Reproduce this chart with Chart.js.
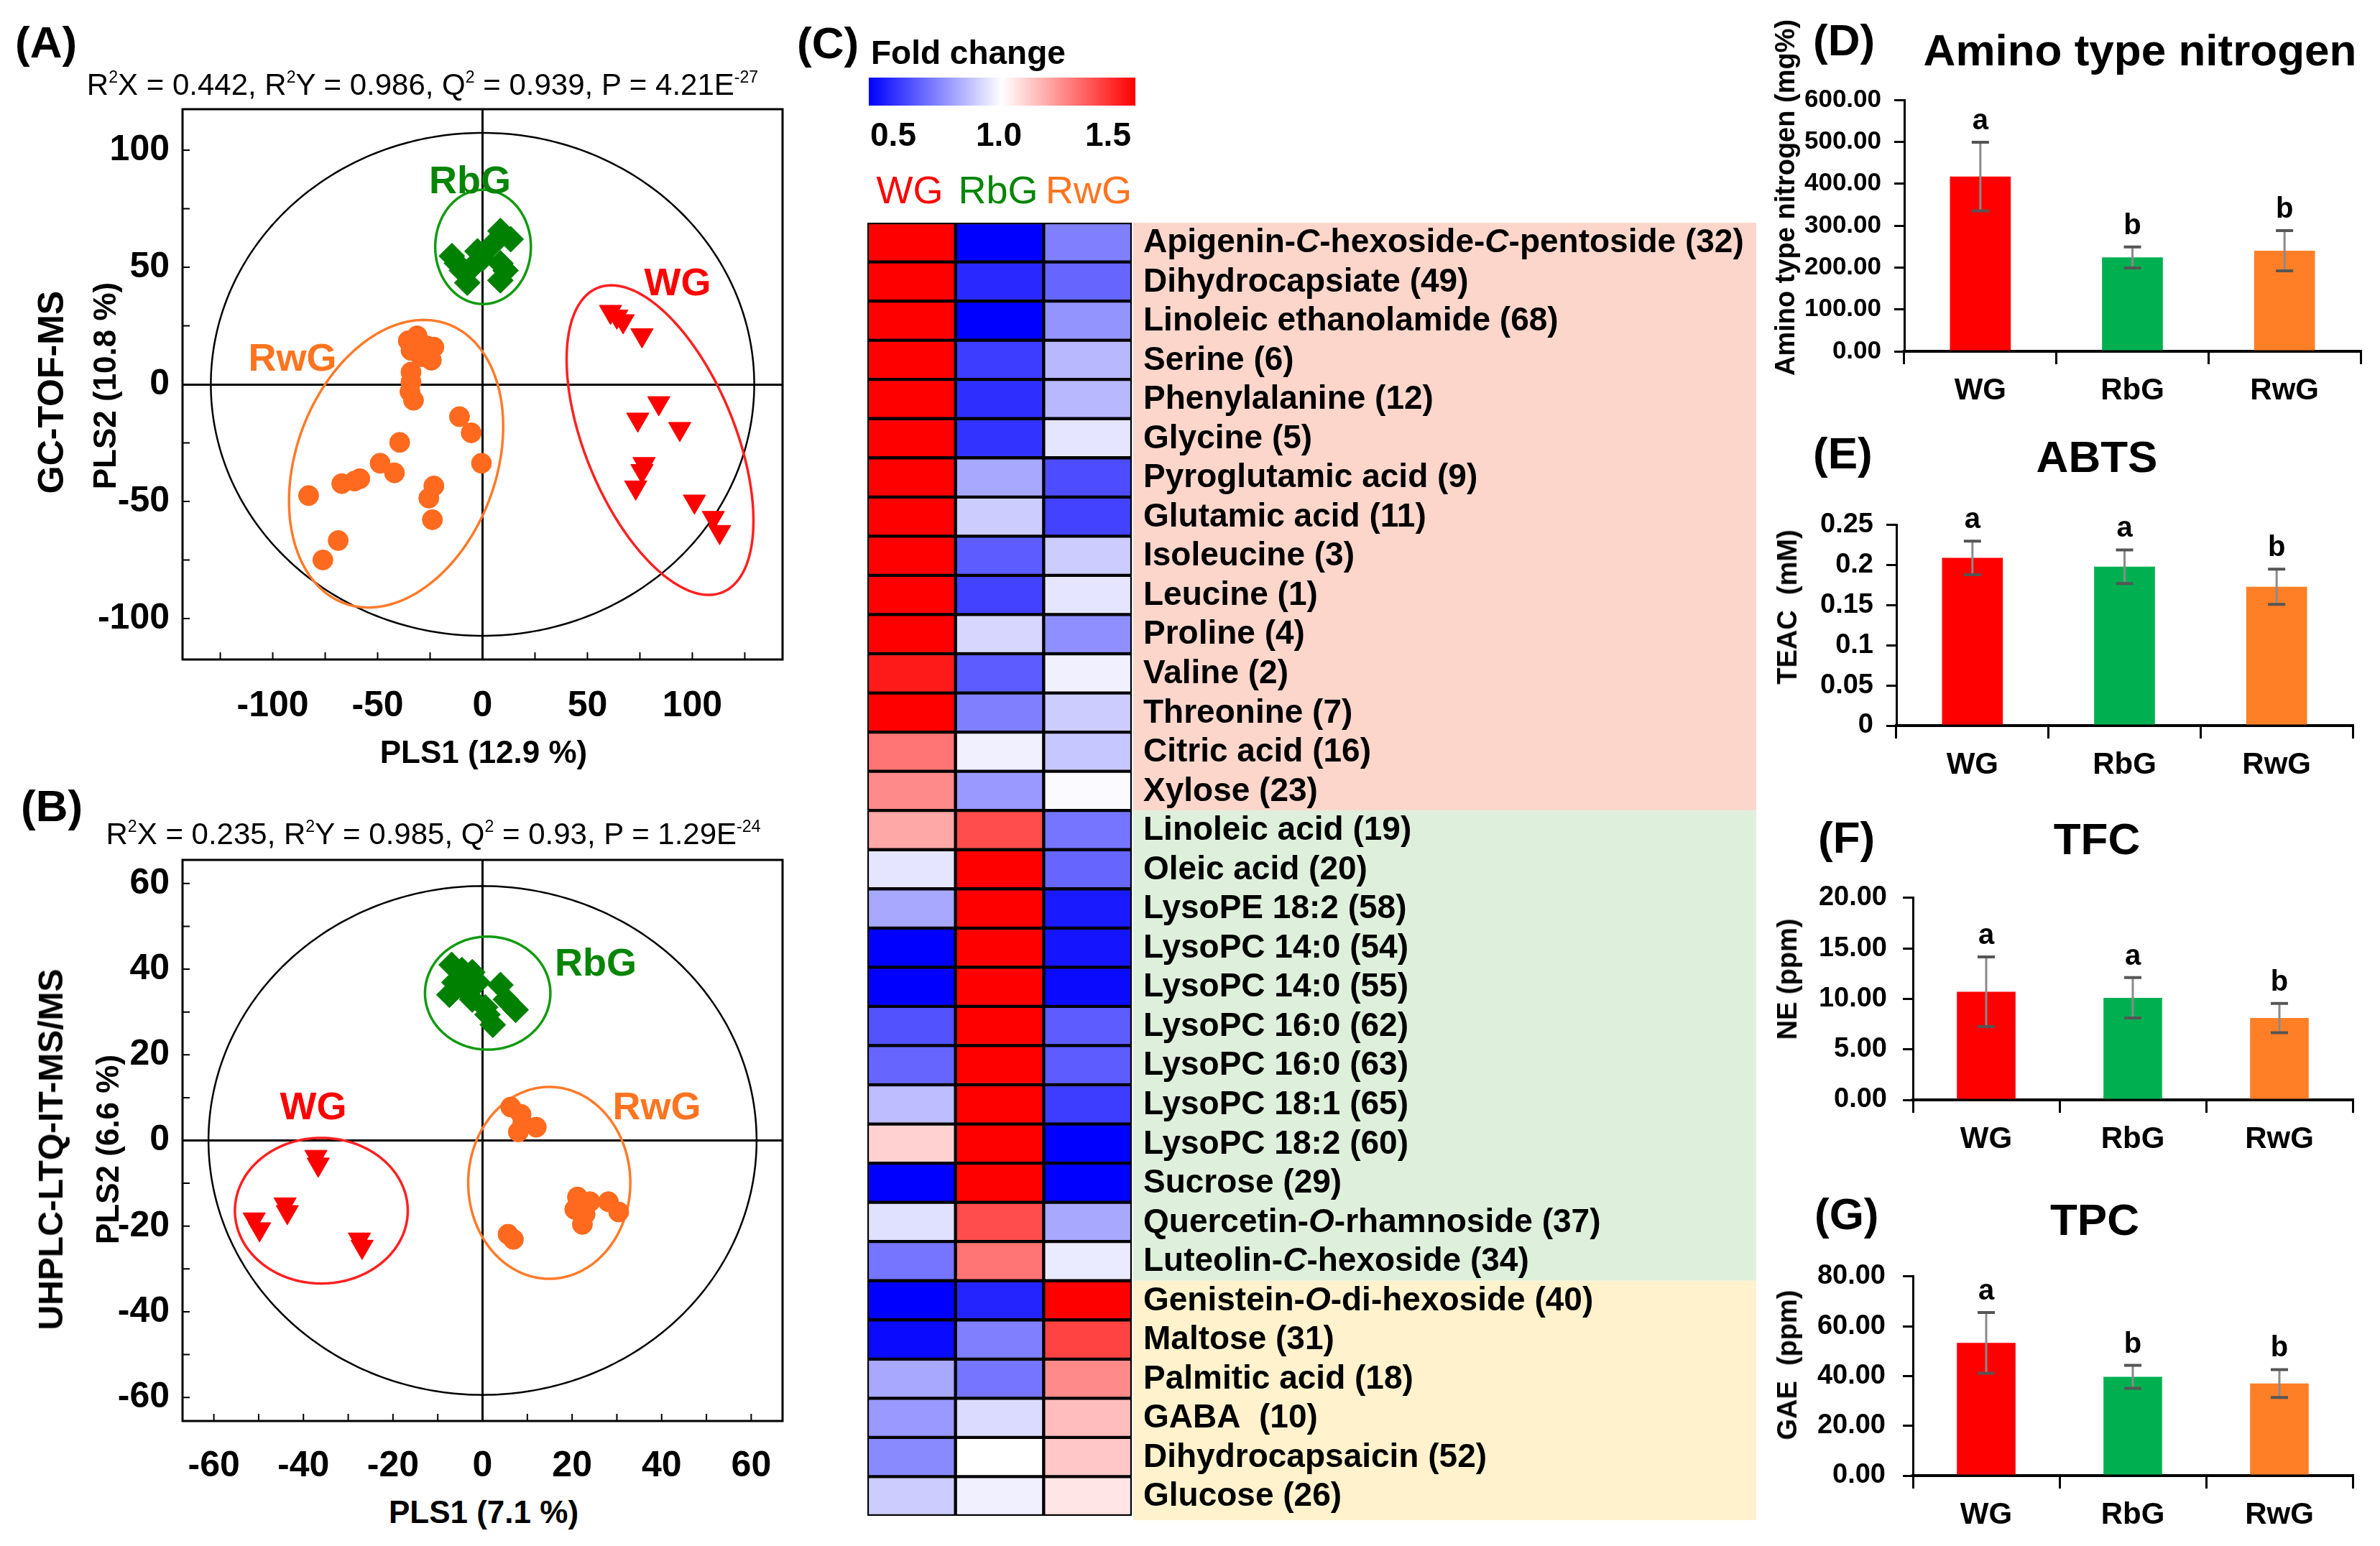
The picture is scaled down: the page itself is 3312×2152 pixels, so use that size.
<!DOCTYPE html>
<html><head><meta charset="utf-8">
<script src="https://cdn.jsdelivr.net/npm/chart.js@4.4.0/dist/chart.umd.min.js"></script>
<style>
html,body{margin:0;padding:0;background:#fff;}
#root{position:relative;width:3312px;height:2152px;overflow:hidden;font-family:'Liberation Sans',Arial,sans-serif;}
canvas{position:absolute;}
.t{position:absolute;white-space:nowrap;line-height:1;color:#000;}
.t sup{font-size:55%;vertical-align:0.75em;line-height:0;}
</style></head><body><div id="root"></div>
<script>
// ---------------- DATA ----------------
const groups = ['WG', 'RbG', 'RwG'];

// (A) GC-TOF-MS PLS-DA scores [PLS1, PLS2]
const aWG  = [[61,31],[64,29],[67,27],[76,21],[84,-8],[74,-15],[94,-19],[77,-34],[76,-37],[73,-44],[101,-50],[110,-57],[113,-63]];
const aRbG = [[-14.6,54.8],[-12.2,51.7],[-9.8,48.6],[-7.3,43.4],[-2.4,56.8],[0,53.7],[4.9,59.9],[8.5,65.5],[13.4,62],[8.5,51.7],[11,48.6],[8.5,44.4],[-5,50]];
const aRwG = [[-35.4,18.6],[-31.2,20.7],[-26.8,16.5],[-23.2,15.9],[-34.1,14.5],[-29.3,11.8],[-24.4,10.3],[-34.1,5.2],[-34.1,1],[-34.6,-3.1],[-32.9,-6.8],[-11,-13.8],[-5.4,-20.7],[-0.5,-33.7],[-39.5,-24.8],[-48.8,-33.7],[-42,-37.8],[-67.1,-42.4],[-61,-41.3],[-58.5,-40.3],[-82.9,-47.5],[-23.2,-43.4],[-25.6,-48.6],[-23.9,-57.8],[-68.8,-66.7],[-76.1,-75]];
const aTicksX = [-100,-50,0,50,100];
const aTicksY = [-100,-50,0,50,100];
const aMinorX = [-125,-100,-75,-50,-25,0,25,50,75,100,125];
const aMinorY = [-100,-75,-50,-25,0,25,50,75,100];
// ellipses: centre c, conjugate semi-axes u, v (data units)
const aEllT2  = {c:[0,0], u:[0,107.4], v:[129.5,0]};
const aEllRbG = {c:[0.25,58.7], u:[0,24.4], v:[22.8,0]};
const aEllRwG = {c:[-41.2,-33.9], u:[13.2,61.4], v:[49.3,0]};
const aEllWG  = {c:[84.6,-23.8], u:[-23.2,66.1], v:[38,0]};

// (B) UHPLC-LTQ-IT-MS/MS PLS-DA scores
const bWG  = [[-37.2,-3.8],[-36.7,-5.6],[-44.1,-14.9],[-43.6,-16.7],[-51,-18.4],[-49.8,-20.7],[-27.5,-23.1],[-26.9,-24.8]];
const bRbG = [[-6.9,41],[-4.6,39.8],[-2.3,39.3],[-6.3,36.9],[-4,35.2],[-1.1,36.9],[-7.4,34],[-2.3,32.9],[0.6,31.1],[4,36.3],[5.2,32.9],[7.4,30.5],[2.3,27],[1.1,29.4]];
const bRwG = [[6.3,7.8],[8.6,6.1],[8,2],[12,3.1],[9,4],[5.7,-21.9],[6.9,-23.1],[21.2,-13.2],[20.6,-16.1],[22.9,-17.2],[22.3,-19.6],[28.1,-14.3],[30.4,-16.7],[24,-14.3]];
const bTicksX = [-60,-40,-20,0,20,40,60];
const bTicksY = [-60,-40,-20,0,20,40,60];
const bMinorX = [-60,-50,-40,-30,-20,-10,0,10,20,30,40,50,60];
const bMinorY = [-60,-50,-40,-30,-20,-10,0,10,20,30,40,50,60];
const bEllT2  = {c:[0,0], u:[0,59.4], v:[61.2,0]};
const bEllRbG = {c:[1.15,34.4], u:[0,13.2], v:[14,0]};
const bEllRwG = {c:[14.9,-9.9], u:[0,22.4], v:[18.1,0]};
const bEllWG  = {c:[-36,-16.4], u:[0,17], v:[19.3,0]};

// (C) heat map: fold change
const metabolites = ['Apigenin-C-hexoside-C-pentoside (32)','Dihydrocapsiate (49)','Linoleic ethanolamide (68)','Serine (6)','Phenylalanine (12)','Glycine (5)','Pyroglutamic acid (9)','Glutamic acid (11)','Isoleucine (3)','Leucine (1)','Proline (4)','Valine (2)','Threonine (7)','Citric acid (16)','Xylose (23)','Linoleic acid (19)','Oleic acid (20)','LysoPE 18:2 (58)','LysoPC 14:0 (54)','LysoPC 14:0 (55)','LysoPC 16:0 (62)','LysoPC 16:0 (63)','LysoPC 18:1 (65)','LysoPC 18:2 (60)','Sucrose (29)','Quercetin-O-rhamnoside (37)','Luteolin-C-hexoside (34)','Genistein-O-di-hexoside (40)','Maltose (31)','Palmitic acid (18)','GABA  (10)','Dihydrocapsaicin (52)','Glucose (26)'];
const foldWG  = [1.5,1.5,1.5,1.5,1.5,1.5,1.5,1.5,1.5,1.5,1.5,1.45,1.5,1.27,1.23, 1.17,0.95,0.83,0.5,0.5,0.66,0.7,0.87,1.09,0.5,0.94,0.73, 0.5,0.52,0.83,0.8,0.77,0.9];
const foldRbG = [0.5,0.58,0.5,0.62,0.59,0.6,0.83,0.9,0.68,0.63,0.92,0.68,0.75,0.97,0.8, 1.35,1.5,1.5,1.5,1.5,1.5,1.5,1.5,1.5,1.5,1.35,1.27, 0.57,0.75,0.73,0.93,1.0,0.97];
const foldRwG = [0.75,0.7,0.79,0.86,0.86,0.95,0.65,0.63,0.9,0.95,0.78,0.97,0.9,0.89,0.99, 0.73,0.7,0.55,0.54,0.52,0.68,0.68,0.62,0.5,0.5,0.83,0.96, 1.5,1.37,1.23,1.13,1.11,1.05];
const bandSizes = [15, 12, 6];
const foldTickLabels = ['0.5','1.0','1.5'];

// (D)-(G) bar charts
const dVals = [417, 224, 240], dErr = [82, 25, 48], dLetters = ['a','b','b'];
const dTicks = [0,100,200,300,400,500,600];
const eVals = [0.209, 0.198, 0.173], eErr = [0.021, 0.021, 0.022], eLetters = ['a','a','b'];
const eTicks = [0,0.05,0.1,0.15,0.2,0.25];
const fVals = [10.7, 10.1, 8.1], fErr = [3.45, 2.0, 1.45], fLetters = ['a','a','b'];
const fTicks = [0,5,10,15,20];
const gVals = [53.3, 39.7, 37.0], gErr = [12.2, 4.6, 5.6], gLetters = ['a','b','b'];
const gTicks = [0,20,40,60,80];

// ---------------- STYLE ----------------
const FONT = "'Liberation Sans', Arial, sans-serif";
Chart.defaults.font.family = FONT;
Chart.defaults.color = '#000';
const C = {red:'#FF0000', green:'#008000', orange:'#FF6A1E',
           redE:'#FF2020', greenE:'#129A12', orangeE:'#FF7A2A',
           redL:'#FF0000', greenL:'#078507', orangeL:'#FF7420',
           barRed:'#FF0000', barGreen:'#00B050', barOrange:'#FF7F27'};
const root = document.getElementById('root');

function txt(html, x, y, size, o = {}) {
  const d = document.createElement('div');
  d.className = 't';
  d.innerHTML = html;
  d.style.fontSize = size + 'px';
  d.style.fontWeight = o.w || 'bold';
  d.style.color = o.c || '#000';
  if (o.i) d.style.fontStyle = 'italic';
  d.style.left = x + 'px';
  d.style.top = y + 'px';
  const ax = o.a === 'l' ? '0' : '-50%';
  d.style.transform = `translate(${ax},-50%)` + (o.r ? ' rotate(-90deg)' : '');
  root.appendChild(d);
  return d;
}
function mkCanvas(left, top, w, h) {
  const c = document.createElement('canvas');
  c.width = w; c.height = h;
  c.style.left = left + 'px'; c.style.top = top + 'px';
  c.style.width = w + 'px'; c.style.height = h + 'px';
  root.appendChild(c);
  return c;
}

// ---------------- SCATTER (A, B) ----------------
const scorePlugin = {
  id: 'scorePlot',
  beforeDatasetsDraw(chart, args, o) {
    const {ctx, scales: {x, y}} = chart;
    o.ellipses.forEach(e => {
      ctx.save();
      ctx.beginPath();
      for (let i = 0; i <= 360; i++) {
        const t = i * Math.PI / 180;
        const dx = e.g.c[0] + e.g.u[0] * Math.cos(t) + e.g.v[0] * Math.sin(t);
        const dy = e.g.c[1] + e.g.u[1] * Math.cos(t) + e.g.v[1] * Math.sin(t);
        const px = x.getPixelForValue(dx), py = y.getPixelForValue(dy);
        if (i) ctx.lineTo(px, py); else ctx.moveTo(px, py);
      }
      ctx.closePath();
      ctx.strokeStyle = e.color; ctx.lineWidth = e.w;
      ctx.stroke();
      ctx.restore();
    });
  },
  afterDraw(chart, args, o) {
    const {ctx, chartArea: a, scales: {x, y}} = chart;
    ctx.save();
    ctx.strokeStyle = '#000'; ctx.lineWidth = 3;
    ctx.strokeRect(a.left, a.top, a.right - a.left, a.bottom - a.top);
    ctx.lineWidth = 2;
    ctx.beginPath();
    o.minorX.forEach(v => { const p = x.getPixelForValue(v); ctx.moveTo(p, a.bottom); ctx.lineTo(p, a.bottom - 10); });
    o.minorY.forEach(v => { const p = y.getPixelForValue(v); ctx.moveTo(a.left, p); ctx.lineTo(a.left + 10, p); });
    ctx.stroke();
    ctx.restore();
  }
};

function scatter(canvas, cfg) {
  const ds = (pts, color, style, r, rot) => ({
    data: pts.map(p => ({x: p[0], y: p[1]})),
    pointStyle: style, pointRadius: r, pointRotation: rot || 0,
    backgroundColor: color, borderColor: color, borderWidth: 1, showLine: false
  });
  const zeroGrid = {
    drawTicks: false,
    color: c => (c.tick && c.tick.value === 0) ? '#000' : 'rgba(0,0,0,0)',
    lineWidth: 3
  };
  return new Chart(canvas, {
    type: 'scatter',
    data: {datasets: [
      ds(cfg.rbg, C.green, 'rectRot', 18),
      ds(cfg.rwg, C.orange, 'circle', 14),
      ds(cfg.wg, C.red, 'triangle', 18, 180)
    ]},
    options: {
      responsive: false, animation: false, events: [], devicePixelRatio: 1,
      layout: {padding: {left: 0, right: cfg.padR, top: cfg.padT, bottom: 0}},
      plugins: {legend: {display: false}, tooltip: {enabled: false},
        scorePlot: {ellipses: cfg.ellipses, minorX: cfg.minorX, minorY: cfg.minorY}},
      scales: {
        x: {type: 'linear', min: cfg.xr[0], max: cfg.xr[1],
            afterBuildTicks: s => { s.ticks = cfg.ticksX.map(v => ({value: v})); },
            grid: zeroGrid, border: {display: false},
            ticks: {font: {size: 50, weight: 'bold'}, color: '#000', padding: cfg.xPad},
            afterFit: s => { s.height = cfg.xH; }},
        y: {type: 'linear', min: cfg.yr[0], max: cfg.yr[1],
            afterBuildTicks: s => { s.ticks = cfg.ticksY.map(v => ({value: v})); },
            grid: zeroGrid, border: {display: false},
            ticks: {font: {size: 50, weight: 'bold'}, color: '#000', padding: 18},
            afterFit: s => { s.width = cfg.yW; }}
      }
    },
    plugins: [scorePlugin]
  });
}

scatter(mkCanvas(0, 0, 1120, 1010), {
  wg: aWG, rbg: aRbG, rwg: aRwG, xr: [-143, 143], yr: [-117.5, 117.5],
  ticksX: aTicksX, ticksY: aTicksY, minorX: aMinorX, minorY: aMinorY,
  padR: 31, padT: 152, xH: 92, yW: 254, xPad: 35,
  ellipses: [
    {g: aEllT2, color: '#000', w: 2.5},
    {g: aEllRbG, color: C.greenE, w: 3.5},
    {g: aEllRwG, color: C.orangeE, w: 3.5},
    {g: aEllWG, color: C.redE, w: 3.5}
  ]
});
scatter(mkCanvas(0, 1060, 1120, 1010), {
  wg: bWG, rbg: bRbG, rwg: bRwG, xr: [-67, 67], yr: [-65.5, 65.5],
  ticksX: bTicksX, ticksY: bTicksY, minorX: bMinorX, minorY: bMinorY,
  padR: 31, padT: 137, xH: 92, yW: 254, xPad: 33,
  ellipses: [
    {g: bEllT2, color: '#000', w: 2.5},
    {g: bEllRbG, color: C.greenE, w: 3.5},
    {g: bEllRwG, color: C.orangeE, w: 3.5},
    {g: bEllWG, color: C.redE, w: 3.5}
  ]
});

// texts A / B
txt('(A)', 21, 59, 62, {a: 'l'});
txt('R<sup>2</sup>X = 0.442, R<sup>2</sup>Y = 0.986, Q<sup>2</sup> = 0.939, P = 4.21E<sup>-27</sup>', 588, 118, 42, {w: 'normal'});
txt('PLS1 (12.9 %)', 673, 1047, 44);
txt('PLS2 (10.8 %)', 146, 537, 44, {r: true});
txt('GC-TOF-MS', 71, 546, 50, {r: true});
txt('RbG', 654, 250, 54, {c: C.greenL});
txt('WG', 943, 392, 54, {c: C.redL});
txt('RwG', 407, 497, 54, {c: C.orangeL});

txt('(B)', 29, 1122, 62, {a: 'l'});
txt('R<sup>2</sup>X = 0.235, R<sup>2</sup>Y = 0.985, Q<sup>2</sup> = 0.93, P = 1.29E<sup>-24</sup>', 603, 1161, 42, {w: 'normal'});
txt('PLS1 (7.1 %)', 673, 2105, 44);
txt('PLS2 (6.6 %)', 150, 1600, 44, {r: true});
txt('UHPLC-LTQ-IT-MS/MS', 71, 1600, 48, {r: true});
txt('RbG', 829, 1339, 54, {c: C.greenL});
txt('WG', 436, 1539, 54, {c: C.redL});
txt('RwG', 914, 1539, 54, {c: C.orangeL});

// ---------------- HEAT MAP (C) ----------------
function foldColor(v) {
  let t;
  if (v < 1) { t = Math.min(1, (1 - v) / 0.5); const k = Math.round(255 * (1 - t)); return `rgb(${k},${k},255)`; }
  t = Math.min(1, (v - 1) / 0.5); const k = Math.round(255 * (1 - t)); return `rgb(255,${k},${k})`;
}
const bandColors = ['#FCD6CB', '#DEEFDB', '#FFF2CD'];
const heatPlugin = {
  id: 'heatLabels',
  beforeDatasetsDraw(chart, args, o) {
    const {ctx, chartArea: a, scales: {y}} = chart;
    const h = (a.bottom - a.top) / metabolites.length;
    let s = 0;
    ctx.save();
    bandSizes.forEach((n, k) => {
      const t = y.getPixelForValue(s) - h / 2;
      const b = y.getPixelForValue(s + n - 1) + h / 2 + (k === bandSizes.length - 1 ? 6 : 0);
      ctx.fillStyle = bandColors[k];
      ctx.fillRect(a.right + 2, t, o.bandRight - a.right - 2, b - t);
      s += n;
    });
    ctx.restore();
  },
  afterDatasetsDraw(chart, args, o) {
    const {ctx, chartArea: a, scales: {y}} = chart;
    ctx.save();
    ctx.fillStyle = '#000';
    ctx.textBaseline = 'middle';
    const fN = `bold 46px ${FONT}`, fI = `italic bold 46px ${FONT}`;
    metabolites.forEach((lab, i) => {
      let px = a.right + 16;
      const py = y.getPixelForValue(i) + 1;
      const parts = lab.split('-');
      parts.forEach((p, j) => {
        ctx.font = /^[CO]$/.test(p) ? fI : fN;
        ctx.fillText(p, px, py);
        px += ctx.measureText(p).width;
        if (j < parts.length - 1) {
          ctx.font = fN; ctx.fillText('-', px, py); px += ctx.measureText('-').width;
        }
      });
    });
    ctx.restore();
  }
};
const cellUnit = metabolites.map(() => 1);
const heatDs = (vals) => ({
  data: cellUnit, backgroundColor: vals.map(foldColor),
  borderColor: '#000', borderWidth: 2.5, borderSkipped: false,
  barPercentage: 1, categoryPercentage: 1
});
new Chart(mkCanvas(1100, 0, 1345, 2152), {
  type: 'bar',
  data: {labels: metabolites, datasets: [heatDs(foldWG), heatDs(foldRbG), heatDs(foldRwG)]},
  options: {
    indexAxis: 'y', responsive: false, animation: false, events: [], devicePixelRatio: 1,
    layout: {padding: {left: 107, right: 0, top: 310, bottom: 42}},
    plugins: {legend: {display: false}, tooltip: {enabled: false}, heatLabels: {bandRight: 1344}},
    scales: {
      x: {type: 'linear', stacked: true, min: 0, max: 3, display: false},
      y: {type: 'category', stacked: true, position: 'right',
          grid: {display: false}, border: {display: false}, ticks: {display: false},
          afterFit: s => { s.width = 870; }}
    }
  },
  plugins: [heatPlugin]
});

txt('(C)', 1109, 60, 62, {a: 'l'});
txt('Fold change', 1212, 73, 46, {a: 'l'});
(function () {
  const bar = document.createElement('div');
  bar.style.cssText = 'position:absolute;left:1209px;top:108px;width:371px;height:39px;background:linear-gradient(to right,#0000FF 0%,#FFFFFF 50%,#FF0000 100%);';
  root.appendChild(bar);
})();
txt(foldTickLabels[0], 1243, 187, 46);
txt(foldTickLabels[1], 1390, 187, 46);
txt(foldTickLabels[2], 1542, 187, 46);
txt(groups[0], 1266, 264, 54, {c: C.redL, w: 'normal'});
txt(groups[1], 1389, 264, 54, {c: C.greenL, w: 'normal'});
txt(groups[2], 1515, 264, 54, {c: C.orangeL, w: 'normal'});

// ---------------- BAR CHARTS (D-G) ----------------
const errPlugin = {
  id: 'errBars',
  afterDatasetsDraw(chart, args, o) {
    const {ctx, scales: {y}} = chart;
    const meta = chart.getDatasetMeta(0);
    ctx.save();
    meta.data.forEach((bar, i) => {
      const yt = y.getPixelForValue(o.vals[i] + o.errs[i]);
      const yb = y.getPixelForValue(o.vals[i] - o.errs[i]);
      ctx.strokeStyle = '#8A8A8A'; ctx.lineWidth = 3;
      ctx.beginPath(); ctx.moveTo(bar.x, yt); ctx.lineTo(bar.x, yb); ctx.stroke();
      ctx.strokeStyle = '#555'; ctx.lineWidth = 4;
      ctx.beginPath();
      ctx.moveTo(bar.x - 12, yt); ctx.lineTo(bar.x + 12, yt);
      ctx.moveTo(bar.x - 12, yb); ctx.lineTo(bar.x + 12, yb);
      ctx.stroke();
      ctx.fillStyle = '#000'; ctx.font = `bold 40px ${FONT}`;
      ctx.textAlign = 'center'; ctx.textBaseline = 'alphabetic';
      ctx.fillText(o.letters[i], bar.x, yt - 18);
    });
    ctx.restore();
  }
};
function barChart(canvas, cfg) {
  return new Chart(canvas, {
    type: 'bar',
    data: {labels: groups, datasets: [{
      data: cfg.vals, backgroundColor: [C.barRed, C.barGreen, C.barOrange],
      barPercentage: 0.4, categoryPercentage: 1, borderWidth: 0
    }]},
    options: {
      responsive: false, animation: false, events: [], devicePixelRatio: 1,
      layout: {padding: {left: 0, right: cfg.padR, top: cfg.padT, bottom: 0}},
      plugins: {legend: {display: false}, tooltip: {enabled: false},
        errBars: {vals: cfg.vals, errs: cfg.errs, letters: cfg.letters}},
      scales: {
        x: {grid: {offset: true, drawOnChartArea: false, drawTicks: true, tickLength: 18, color: '#000', lineWidth: 3},
            border: {color: '#000', width: 4},
            ticks: {font: {size: 42, weight: 'bold'}, color: '#000', padding: 12},
            afterFit: s => { s.height = cfg.xH; }},
        y: {min: 0, max: cfg.ticks[cfg.ticks.length - 1],
            afterBuildTicks: s => { s.ticks = cfg.ticks.map(v => ({value: v})); },
            grid: {drawOnChartArea: false, drawTicks: true, tickLength: 14, color: '#000', lineWidth: 3},
            border: {color: '#000', width: 3},
            ticks: {font: {size: cfg.tickSize, weight: 'bold'}, color: '#000', padding: cfg.yPad, callback: cfg.fmt},
            afterFit: s => { s.width = cfg.yW; }}
      }
    },
    plugins: [errPlugin]
  });
}
const fix2 = v => Number(v).toFixed(2);
barChart(mkCanvas(2500, 100, 812, 480), {vals: dVals, errs: dErr, letters: dLetters, ticks: dTicks, fmt: fix2,
  yW: 150, padT: 21, xH: 91, padR: 27, tickSize: 35, yPad: 18});
barChart(mkCanvas(2500, 690, 812, 410), {vals: eVals, errs: eErr, letters: eLetters, ticks: eTicks, fmt: v => String(v),
  yW: 139, padT: 24, xH: 90, padR: 38, tickSize: 38, yPad: 18});
barChart(mkCanvas(2500, 1205, 812, 420), {vals: fVals, errs: fErr, letters: fLetters, ticks: fTicks, fmt: fix2,
  yW: 162, padT: 25, xH: 94, padR: 38, tickSize: 38, yPad: 22});
barChart(mkCanvas(2500, 1730, 812, 422), {vals: gVals, errs: gErr, letters: gLetters, ticks: gTicks, fmt: fix2,
  yW: 162, padT: 26, xH: 98, padR: 38, tickSize: 38, yPad: 24});

txt('(D)', 2523, 56, 62, {a: 'l'});
txt('Amino type nitrogen', 2978, 70, 62);
txt('Amino type nitrogen (mg%)', 2484, 275, 38, {r: true});
txt('(E)', 2523, 631, 62, {a: 'l'});
txt('ABTS', 2918, 636, 62);
txt('TEAC&nbsp; (mM)', 2487, 845, 38, {r: true});
txt('(F)', 2530, 1166, 62, {a: 'l'});
txt('TFC', 2918, 1168, 62);
txt('NE (ppm)', 2487, 1363, 38, {r: true});
txt('(G)', 2525, 1690, 62, {a: 'l'});
txt('TPC', 2915, 1698, 62);
txt('GAE&nbsp; (ppm)', 2487, 1900, 38, {r: true});
</script></body></html>
